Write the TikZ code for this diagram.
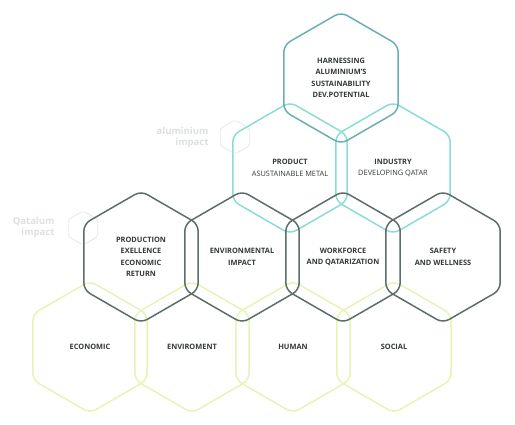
\documentclass[tikz,border=0pt]{standalone}
\usepackage{fontspec}
\setmainfont{Open Sans}
\usetikzlibrary{shapes.geometric}
\definecolor{ink}{HTML}{333838}
\definecolor{slate}{HTML}{5E6C6B}
\definecolor{tealdk}{HTML}{6AAEB6}
\definecolor{aqua}{HTML}{8ADDD2}
\definecolor{lime}{HTML}{E8F3B6}
\definecolor{ghost}{HTML}{DDE0E0}

\begin{document}
\begin{tikzpicture}[x=1pt, y=-1pt, font=\fontsize{7.4}{11.5}\selectfont,
  hx/.style={regular polygon, regular polygon sides=6, shape border rotate=30,
    minimum size=132pt, inner sep=0pt, line width=1.5pt, rounded corners=7pt,
    align=center, text=ink},
  small/.style={regular polygon, regular polygon sides=6, shape border rotate=30,
    minimum size=34pt, inner sep=0pt, draw=ghost!70, line width=0.9pt, rounded corners=2pt},
  ghosttxt/.style={font=\fontsize{9.5}{11}\selectfont\bfseries, text=ghost, align=right, anchor=east}]
\useasboundingbox (0,0) rectangle (515,424);
% faded markers
\node[small] (alhex) at (235,137) {};
\node[ghosttxt] (alum) at (212,138) {aluminium\\impact};
\node[small] (qahex) at (83,228) {};
\node[ghosttxt] (qatal) at (58,228) {Qatalum\\impact};
% bottom row
\foreach \x/\n/\t in {90/econ/ECONOMIC, 192/envr/ENVIROMENT, 293/human/HUMAN, 394/social/SOCIAL}
  \node[hx, draw=lime] (\n) at (\x,347) {\textbf{\t}};
% teal row
\node[hx, draw=aqua] (prod) at (290,168) {\textbf{PRODUCT}\\ASUSTAINABLE METAL};
\node[hx, draw=aqua] (indus) at (393,168) {\textbf{INDUSTRY}\\DEVELOPING QATAR};
% dark row
\node[hx, draw=slate] (prodx) at (141,257) {\textbf{PRODUCTION}\\\textbf{EXELLENCE}\\\textbf{ECONOMIC}\\\textbf{RETURN}};
\node[hx, draw=slate] (envimp) at (242,257) {\textbf{ENVIRONMENTAL}\\\textbf{IMPACT}};
\node[hx, draw=slate] (work) at (343,257) {\textbf{WORKFORCE}\\\textbf{AND QATARIZATION}};
\node[hx, draw=slate] (safety) at (443,257) {\textbf{SAFETY}\\\textbf{AND WELLNESS}};
% top
\node[hx, draw=tealdk] (harness) at (341,78) {\textbf{HARNESSING}\\\textbf{ALUMINIUM'S}\\\textbf{SUSTAINABILITY}\\\textbf{DEV.POTENTIAL}};
\end{tikzpicture}
\end{document}
